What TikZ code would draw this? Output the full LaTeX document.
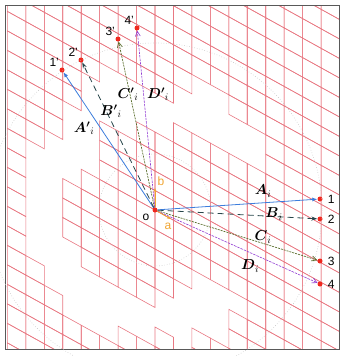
\documentclass[tikz,border=0pt]{standalone}
\usepackage{amsmath}
\usepackage{fontspec}
\usetikzlibrary{arrows.meta,positioning}
\newfontfamily\lblfont{Liberation Sans}

\definecolor{gridred}{RGB}{232,120,130}
\definecolor{vecA}{RGB}{60,125,220}
\definecolor{vecB}{RGB}{40,70,75}
\definecolor{vecC}{RGB}{90,110,45}
\definecolor{vecD}{RGB}{145,60,210}
\definecolor{basis}{RGB}{240,165,50}
\definecolor{ptred}{RGB}{240,40,30}

\tikzset{
  cell/.style={draw=gridred, line width=0.6pt},
  pt/.style={circle, fill=ptred, inner sep=0pt, minimum size=5pt},
  num/.style={font=\lblfont\fontsize{12}{14}\selectfont, inner sep=1pt},
  veclbl/.style={font=\fontsize{14}{16}\selectfont, inner sep=1pt},
  vA/.style={vecA, line width=0.8pt, -{Latex[length=5pt,width=4pt]}},
  vB/.style={vecB, line width=0.8pt, dash pattern=on 6pt off 4pt, -{Stealth[length=6pt,width=4pt]}},
  vC/.style={vecC, line width=0.7pt, dash pattern=on 2pt off 1pt, -{Straight Barb[length=5pt,width=5pt]}},
  vD/.style={vecD, line width=0.6pt, dash pattern=on 2.5pt off 1pt, -{Straight Barb[length=5pt,width=5pt]}},
  basisvec/.style={basis, line width=0.8pt, -{Stealth[length=4pt,width=3pt]}},
  ring/.style={gray!45, dotted, line width=0.6pt}
}

% cells left out of the lattice: column / from / to (centre height)
\def\holes{-7/140/255, -6/125/290, -5/110/185, -5/240/312,
  -4/80/165, -4/270/330, -3/75/135, -3/290/340, -2/75/130, -2/300/335,
  -1/85/125, -1/300/340, 0/95/130, 0/300/340, 1/85/135, 1/290/400,
  2/85/135, 2/280/335, 3/95/140, 3/290/340, 4/110/150, 4/300/320,
  5/125/160}

\begin{document}
\begin{tikzpicture}[x=1pt,y=-1pt]
  \useasboundingbox (0,0) rectangle (346,356);

  % lattice
  \begin{scope}
    \clip (5,5) rectangle (339,349);
    \foreach \i in {-8,...,9}{
      \foreach \j in {-16,...,11}{
        \pgfmathsetmacro\cy{224.85+10.2*\i+19.5*\j}
        \gdef\keep{1}
        \foreach \k/\lo/\hi in \holes{
          \ifnum\k=\i\relax
            \ifdim\cy pt>\lo pt\relax
              \ifdim\cy pt<\hi pt\relax\gdef\keep{0}\fi
            \fi
          \fi}
        \ifnum\keep=1
          \draw[cell] ({155+18.45*\i},{210+10.2*\i+19.5*\j}) -- ++(18.45,10.2)
            -- ++(0,19.5) -- ++(-18.45,-10.2) -- cycle;
        \fi
      }
    }
  \end{scope}
  \draw[gray!70!black, line width=1pt] (5,5) rectangle (339,349);

  % points
  \node[pt] (o) at (155,210) {};
  \node[pt] (p1) at (320,199) {};
  \node[pt] (p2) at (320,219) {};
  \node[pt] (p3) at (320,261) {};
  \node[pt] (p4) at (320,284) {};
  \node[pt] (q1) at (62,70) {};
  \node[pt] (q2) at (81,60) {};
  \node[pt] (q3) at (118,39) {};
  \node[pt] (q4) at (137,28) {};

  \draw[ring] (o) circle[radius=56];
  \draw[ring] (o) circle[radius=167];

  % vectors
  \draw[vA] (o) -- (p1);
  \draw[vB] (o) -- (p2);
  \draw[vC] (o) -- (p3);
  \draw[vD] (o) -- (p4);
  \draw[vA] (o) -- (q1);
  \draw[vB] (o) -- (q2);
  \draw[vC] (o) -- (q3);
  \draw[vD] (o) -- (q4);
  \coordinate (ea) at (171,219);
  \coordinate (eb) at (155,188);
  \draw[basisvec] (o) -- (ea);
  \draw[basisvec] (o) -- (eb);

  % labels
  \node[num, right=4pt of p1] (n1) {1};
  \node[num, right=4pt of p2] (n2) {2};
  \node[num, right=4pt of p3] (n3) {3};
  \node[num, right=4pt of p4] (n4) {4};
  \node[num, above left=0pt of q1] (m1) {1’};
  \node[num, above left=0pt of q2] (m2) {2’};
  \node[num, above left=0pt of q3] (m3) {3’};
  \node[num, above left=0pt of q4] (m4) {4’};
  \node[num] (lo) at (146,217) {o};
  \node[num, text=basis] (lb) at (161,181) {b};
  \node[num, text=basis] (la) at (168,226) {a};

  \node[veclbl] (tA) at (263,191) {$\boldsymbol{A}_i$};
  \node[veclbl] (tB) at (274,214) {$\boldsymbol{B}_i$};
  \node[veclbl] (tC) at (263,237) {$\boldsymbol{C}_i$};
  \node[veclbl] (tD) at (250,266) {$\boldsymbol{D}_i$};
  \node[veclbl] (tA') at (84,128) {$\boldsymbol{A'}_i$};
  \node[veclbl] (tB') at (111,111) {$\boldsymbol{B'}_i$};
  \node[veclbl] (tC') at (128,94) {$\boldsymbol{C'}_i$};
  \node[veclbl] (tD') at (158,94) {$\boldsymbol{D'}_i$};
\end{tikzpicture}
\end{document}
